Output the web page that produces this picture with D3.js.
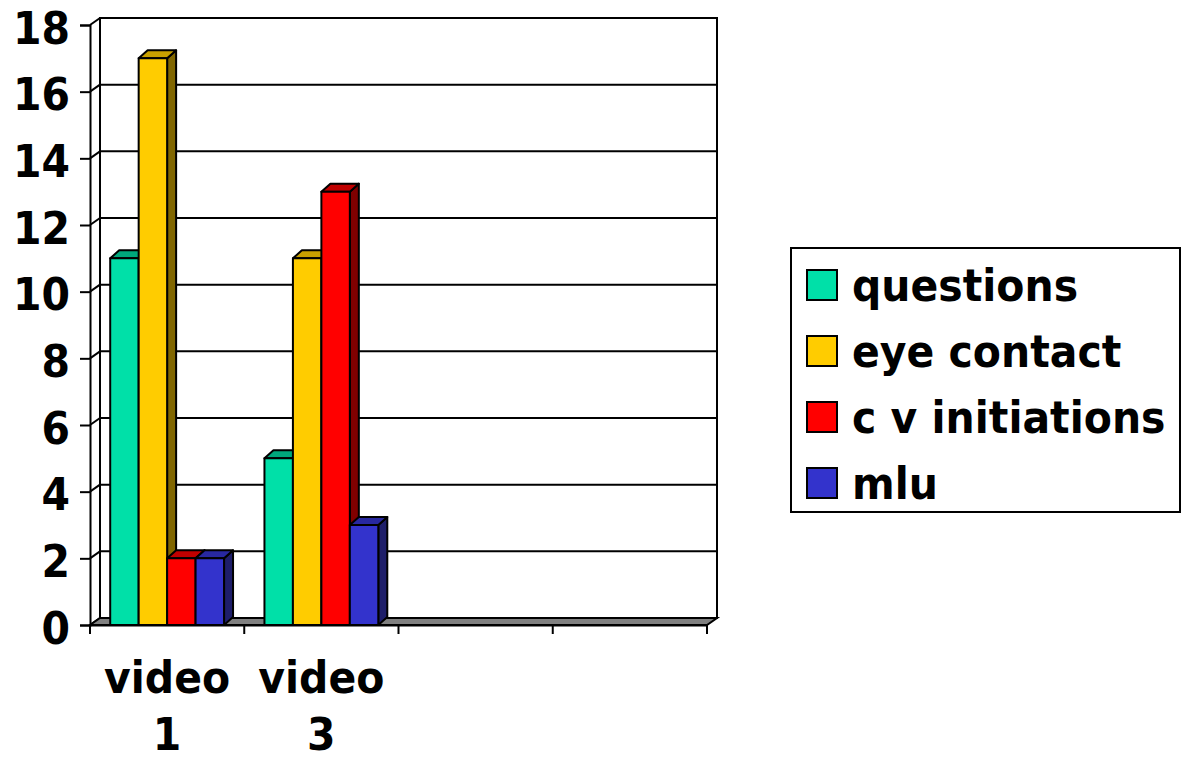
<!DOCTYPE html>
<html>
<head>
<meta charset="utf-8">
<script src="https://cdn.jsdelivr.net/npm/d3@7"></script>
<style>
  html, body { margin: 0; padding: 0; background: #fff; }
  svg { display: block; }
  text { font-family: "DejaVu Sans", Verdana, sans-serif; font-weight: bold; fill: #000; }
</style>
</head>
<body>
<svg id="chart" width="1186" height="759"></svg>
<script>
// Categories along the floor (the last two slots are empty)
const categories = ["video 1", "video 3", "", ""];
const categoryLines = [["video", "1"], ["video", "3"], [], []];

// Series and their values per category
const seriesNames = ["questions", "eye contact", "c v initiations", "mlu"];
const questions = [11, 5, null, null];
const eyeContact = [17, 11, null, null];
const cvInitiations = [2, 13, null, null];
const mlu = [2, 3, null, null];
const seriesValues = [questions, eyeContact, cvInitiations, mlu];

// Face colours: front, top, side
const frontColors = ["#00E0A8", "#FFCC00", "#FF0000", "#3333CC"];
const topColors   = ["#00A87C", "#C8A000", "#C00000", "#2828A0"];
const sideColors  = ["#007A5A", "#806600", "#800000", "#1E1E6A"];

const yTicks = [0, 2, 4, 6, 8, 10, 12, 14, 16, 18];

const svg = d3.select("#chart");

const x0 = 90, x1 = 707;
const yBase = 625, yTop = 25;
const wallDx = 10, wallDy = -7;   // depth of the back wall
const barDx = 9, barDy = -8;      // depth of each bar
const fontSize = 41, stretch = 1.1;

// Category slots are keyed by index so the empty ones stay distinct
const slots = d3.range(categories.length);
const x = d3.scaleBand().domain(slots).range([x0, x1]);
const xs = d3.scaleBand().domain(seriesNames).range([0, x.bandwidth()])
  .paddingInner(0).paddingOuter(0.71);
const y = d3.scaleLinear().domain([0, 18]).range([yBase, yTop]);

// Back wall
svg.append("rect")
  .attr("x", x0 + wallDx).attr("y", yTop + wallDy)
  .attr("width", x1 - x0).attr("height", yBase - yTop)
  .attr("fill", "#fff").attr("stroke", "#000").attr("stroke-width", 2);

// Gridlines on the back wall and the short diagonals on the side wall
const grid = svg.append("g").attr("stroke", "#000").attr("stroke-width", 2).attr("fill", "none");
yTicks.forEach(t => {
  if (t > 0) {
    grid.append("line")
      .attr("x1", x0 + wallDx).attr("x2", x1 + wallDx)
      .attr("y1", y(t) + wallDy).attr("y2", y(t) + wallDy);
  }
  grid.append("line")
    .attr("x1", x0).attr("y1", y(t))
    .attr("x2", x0 + wallDx).attr("y2", y(t) + wallDy);
});
grid.append("line")
  .attr("x1", x0 + wallDx).attr("x2", x0 + wallDx)
  .attr("y1", yTop + wallDy).attr("y2", yBase + wallDy);

// Floor
svg.append("path")
  .attr("d", `M${x0},${yBase} L${x1},${yBase} L${x1 + wallDx},${yBase + wallDy} L${x0 + wallDx},${yBase + wallDy} Z`)
  .attr("fill", "#808080").attr("stroke", "#000").attr("stroke-width", 2);

// Bars
const bars = svg.append("g");
slots.forEach(ci => {
  seriesNames.forEach((s, si) => {
    const v = seriesValues[si][ci];
    if (v == null) return;
    const bx = x(ci) + xs(s);
    const bw = xs.bandwidth();
    const by = y(v);
    const g = bars.append("g").attr("stroke", "#000").attr("stroke-width", 2).attr("stroke-linejoin", "round");
    g.append("path")
      .attr("d", `M${bx + bw},${by} L${bx + bw + barDx},${by + barDy} L${bx + bw + barDx},${yBase + barDy} L${bx + bw},${yBase} Z`)
      .attr("fill", sideColors[si]);
    g.append("path")
      .attr("d", `M${bx},${by} L${bx + barDx},${by + barDy} L${bx + bw + barDx},${by + barDy} L${bx + bw},${by} Z`)
      .attr("fill", topColors[si]);
    g.append("rect")
      .attr("x", bx).attr("y", by).attr("width", bw).attr("height", yBase - by)
      .attr("fill", frontColors[si]);
  });
});

// Value axis on the front edge
const yAxis = svg.append("g")
  .attr("transform", `translate(${x0},0)`)
  .call(d3.axisLeft(y).tickValues(yTicks).tickSize(10).tickPadding(10).tickFormat(d3.format("d")));
yAxis.select(".domain").attr("stroke", "#000").attr("stroke-width", 2);
yAxis.selectAll(".tick line").attr("stroke", "#000").attr("stroke-width", 2);
yAxis.selectAll(".tick text")
  .attr("font-family", "'DejaVu Sans', Verdana, sans-serif")
  .attr("font-weight", "bold").attr("font-size", fontSize).attr("fill", "#000")
  .attr("dy", "0.4em")
  .attr("transform", `scale(1,${stretch})`);

// Category axis along the floor front edge
const xAxis = svg.append("g")
  .attr("transform", `translate(0,${yBase})`)
  .call(d3.axisBottom(x).tickSize(0).tickFormat(""));
xAxis.select(".domain").attr("stroke", "#000").attr("stroke-width", 2);
const boundaries = slots.map(i => x(i)).concat([x1]);
svg.append("g").selectAll("line").data(boundaries).join("line")
  .attr("x1", d => d).attr("x2", d => d)
  .attr("y1", yBase).attr("y2", yBase + 9)
  .attr("stroke", "#000").attr("stroke-width", 2);

// Two-line category labels
slots.forEach(ci => {
  const lines = categoryLines[ci];
  lines.forEach((ln, li) => {
    svg.append("text")
      .attr("transform", `translate(${x(ci) + x.bandwidth() / 2},${693 + li * 57}) scale(1,${stretch})`)
      .attr("text-anchor", "middle")
      .attr("font-size", fontSize)
      .text(ln);
  });
});

// Legend
const legend = svg.append("g");
legend.append("rect")
  .attr("x", 791).attr("y", 248).attr("width", 389).attr("height", 264)
  .attr("fill", "#fff").attr("stroke", "#000").attr("stroke-width", 2);
seriesNames.forEach((s, i) => {
  const ry = 270 + i * 66;
  legend.append("rect")
    .attr("x", 807).attr("y", ry).attr("width", 30).attr("height", 30)
    .attr("fill", frontColors[i]).attr("stroke", "#000").attr("stroke-width", 2);
  legend.append("text")
    .attr("transform", `translate(852,${ry + 31}) scale(1,${stretch})`)
    .attr("font-size", fontSize).text(s);
});
</script>
</body>
</html>
